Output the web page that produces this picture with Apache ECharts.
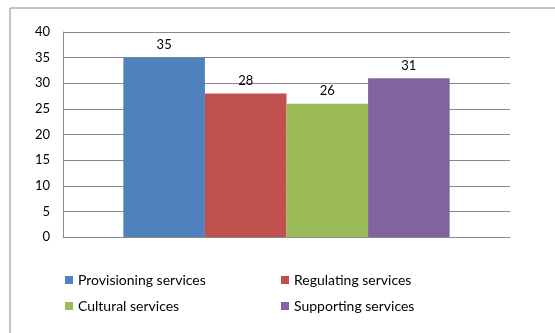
<!DOCTYPE html>
<html>
<head>
<meta charset="utf-8">
<script src="https://cdn.jsdelivr.net/npm/echarts@6/dist/echarts.min.js"></script>
<style>
    * { margin: 0; padding: 0; }
    body { background: #fff; }
    #chart { width: 555px; height: 333px; }
</style>
</head>
<body>
<div id="chart"></div>
<script>
    // data
    var categories = ['Services'];
    var seriesNames = ['Provisioning services', 'Regulating services', 'Cultural services', 'Supporting services'];
    var seriesValues = [35, 28, 26, 31];
    var seriesColors = ['#4F81BD', '#C0504D', '#9BBB59', '#8064A2'];
    var yTicks = { min: 0, max: 40, interval: 5 };

    var font = 'Lato, "Open Sans", sans-serif';

    var series = seriesNames.map(function (name, i) {
        return {
            name: name,
            type: 'bar',
            barGap: '0%',
            barCategoryGap: '27%',
            itemStyle: { color: seriesColors[i] },
            label: {
                show: true,
                position: 'top',
                distance: 6,
                color: '#000',
                fontFamily: font,
                fontSize: 13
            },
            data: [seriesValues[i]]
        };
    });

    var legendText = { color: '#000', fontFamily: font, fontSize: 14, lineHeight: 14 };

    var option = {
        animation: false,
        graphic: [{
            type: 'rect',
            shape: { x: 10, y: 8, width: 570, height: 360 },
            style: { fill: 'none', stroke: '#8a8a8a', lineWidth: 1 },
            silent: true
        }],
        grid: { left: 63, right: 45, top: 32, bottom: 96 },
        legend: [
            {
                orient: 'vertical',
                left: 60, top: 268,
                itemWidth: 8, itemHeight: 8, itemGap: 12,
                icon: 'rect',
                textStyle: legendText,
                data: [seriesNames[0], seriesNames[2]]
            },
            {
                orient: 'vertical',
                left: 276, top: 268,
                itemWidth: 8, itemHeight: 8, itemGap: 12,
                icon: 'rect',
                textStyle: legendText,
                data: [seriesNames[1], seriesNames[3]]
            }
        ],
        xAxis: {
            type: 'category',
            data: categories,
            axisLine: { lineStyle: { color: '#8a8a8a' } },
            axisTick: { show: false },
            axisLabel: { show: false }
        },
        yAxis: {
            type: 'value',
            min: yTicks.min,
            max: yTicks.max,
            interval: yTicks.interval,
            axisLine: { show: true, lineStyle: { color: '#8a8a8a' } },
            axisTick: { show: false },
            axisLabel: { color: '#000', fontFamily: font, fontSize: 13, margin: 13 },
            splitLine: { lineStyle: { color: '#8a8a8a' } }
        },
        series: series
    };

    var myChart = echarts.init(document.getElementById('chart'));
    myChart.setOption(option);
</script>
</body>
</html>
